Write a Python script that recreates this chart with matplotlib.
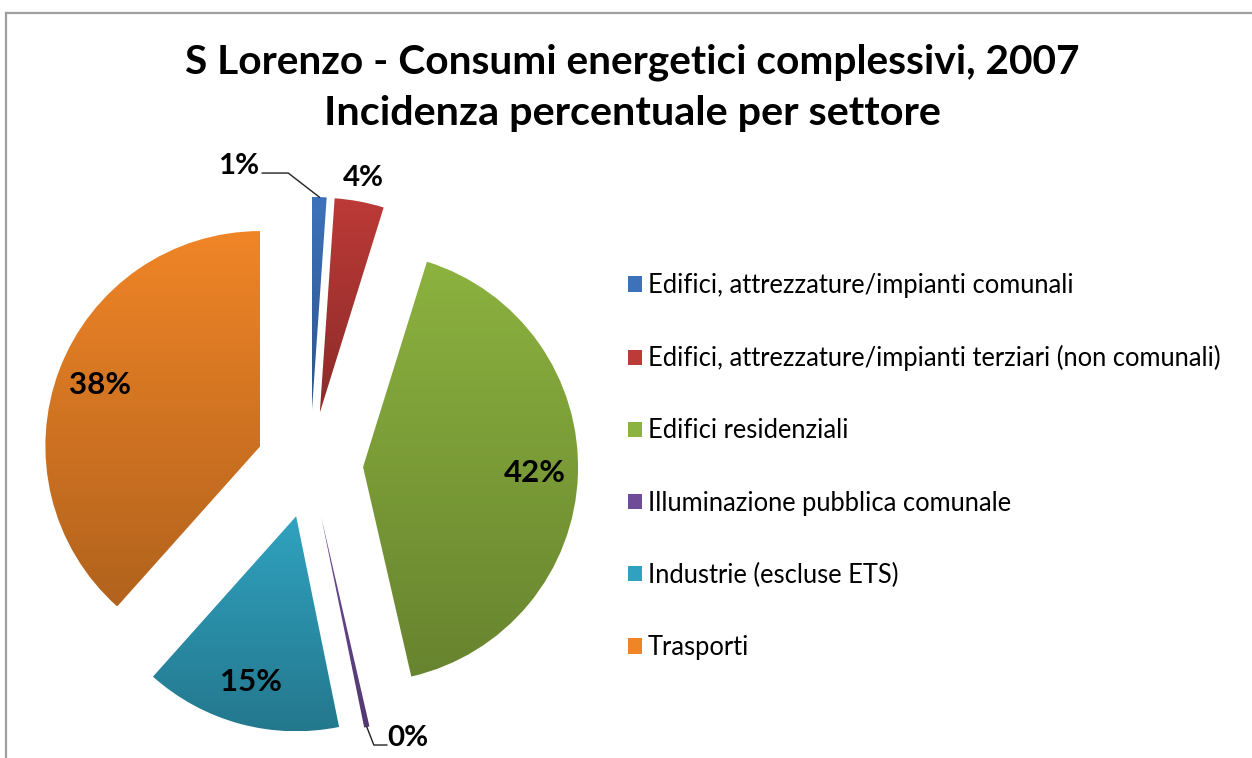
import numpy as np
import matplotlib
matplotlib.use("Agg")
import matplotlib.pyplot as plt
from matplotlib.patches import Patch
from matplotlib.lines import Line2D
from matplotlib.colors import to_rgb

plt.rcParams['font.family'] = ['Lato', 'DejaVu Sans']

title_lines = ["S Lorenzo - Consumi energetici complessivi, 2007",
               "Incidenza percentuale per settore"]
sectors = ["Edifici, attrezzature/impianti comunali",
           "Edifici, attrezzature/impianti terziari (non comunali)",
           "Edifici residenziali",
           "Illuminazione pubblica comunale",
           "Industrie (escluse ETS)",
           "Trasporti"]
shares = [1.1, 3.7, 41.6, 0.4, 14.8, 38.4]
colors = ['#3d72bb', '#bc3a37', '#8cb23f', '#6f4c98', '#30a2bf', '#f08527']

W, H = 1252, 758
cx, cy, R = 310, 465, 215          # pie centre / radius in pixels

fig = plt.figure(figsize=(W / 100, H / 100), dpi=100)
fig.patch.set_facecolor('white')
renderer = fig.canvas.get_renderer()


def fit(txt, width_px):
    # scale a text so it spans the given width
    w = txt.get_window_extent(renderer).width
    txt.set_fontsize(txt.get_fontsize() * width_px / w)
    return txt


# chart frame (top and left edge visible)
fig.add_artist(Line2D([6 / W, 1], [1 - 13 / H, 1 - 13 / H], color='#a0a0a0', lw=1.6))
fig.add_artist(Line2D([6 / W, 6 / W], [1 - 13 / H, 0], color='#a0a0a0', lw=1.6))

# title
t1 = fig.text(632 / W, 1 - 62 / H, title_lines[0], ha='center', va='center',
              fontsize=24, fontweight='bold')
fit(t1, 895)
t2 = fig.text(632 / W, 1 - 113 / H, title_lines[1], ha='center', va='center',
              fontsize=24, fontweight='bold')
fit(t2, 618)

# pie axes, one data unit = R pixels
ax = fig.add_axes([0, 0, 640 / W, (H - 150) / H])
wedges, _ = ax.pie(shares, colors=colors, startangle=90, counterclock=False,
                   explode=[0.247] * len(shares), radius=1)

# vertical gradient fill like Excel 2007
for w, c in zip(wedges, colors):
    base = np.array(to_rgb(c))
    ramp = np.linspace(1.0, 0.74, 256)[:, None, None] * base[None, None, :]
    ext = w.get_path().get_extents()
    im = ax.imshow(ramp, extent=[ext.x0, ext.x1, ext.y0, ext.y1], origin='upper',
                   aspect='auto', zorder=2, interpolation='bilinear')
    im.set_clip_path(w)
    w.set_facecolor('none')
    w.set_edgecolor('none')

ax.set_xlim(-cx / R, (640 - cx) / R)
ax.set_ylim(-(H - cy) / R, (cy - 150) / R)
ax.set_aspect('auto')
ax.axis('off')


def direction(w):
    a = np.deg2rad((w.theta1 + w.theta2) / 2)
    return np.array([np.cos(a), np.sin(a)])


pct_kw = dict(ha='center', va='center', fontweight='bold', fontsize=20, zorder=5)
for i, w in enumerate(wedges):
    d = direction(w)
    centre = np.array(w.center)
    txt = f"{round(shares[i]):.0f}%"
    if shares[i] >= 5:
        pos = centre + 0.8 * d
        ax.text(pos[0], pos[1], txt, **pct_kw)
    elif i == 1:
        pos = centre + 1.11 * d
        ax.text(pos[0], pos[1], txt, **pct_kw)
    else:
        tip = centre + 1.0 * d
        if i == 0:
            pts = np.array([[0, 0], [-31, 24], [-57, 24]]) / R
            lab = np.array([-81, 31]) / R
        else:
            pts = np.array([[0, 0], [7, -18], [20, -18]]) / R
            lab = np.array([41, -11]) / R
        ax.plot(tip[0] + pts[:, 0], tip[1] + pts[:, 1], color='#222222', lw=1.0, zorder=4)
        ax.text(tip[0] + lab[0], tip[1] + lab[1], txt, **pct_kw)

for t in ax.texts:
    fit(t, 62 * len(t.get_text()) / 3)

# legend
handles = [Patch(facecolor=c, edgecolor='none') for c in colors]
leg = fig.legend(handles, sectors, loc='upper left', bbox_to_anchor=(628 / W, 1 - 273 / H),
                 frameon=False, fontsize=18.4, handlelength=0.55, handleheight=0.55,
                 handletextpad=0.22, labelspacing=1.845, borderaxespad=0, borderpad=0)

fig.savefig("out.png", dpi=100, facecolor='white')
